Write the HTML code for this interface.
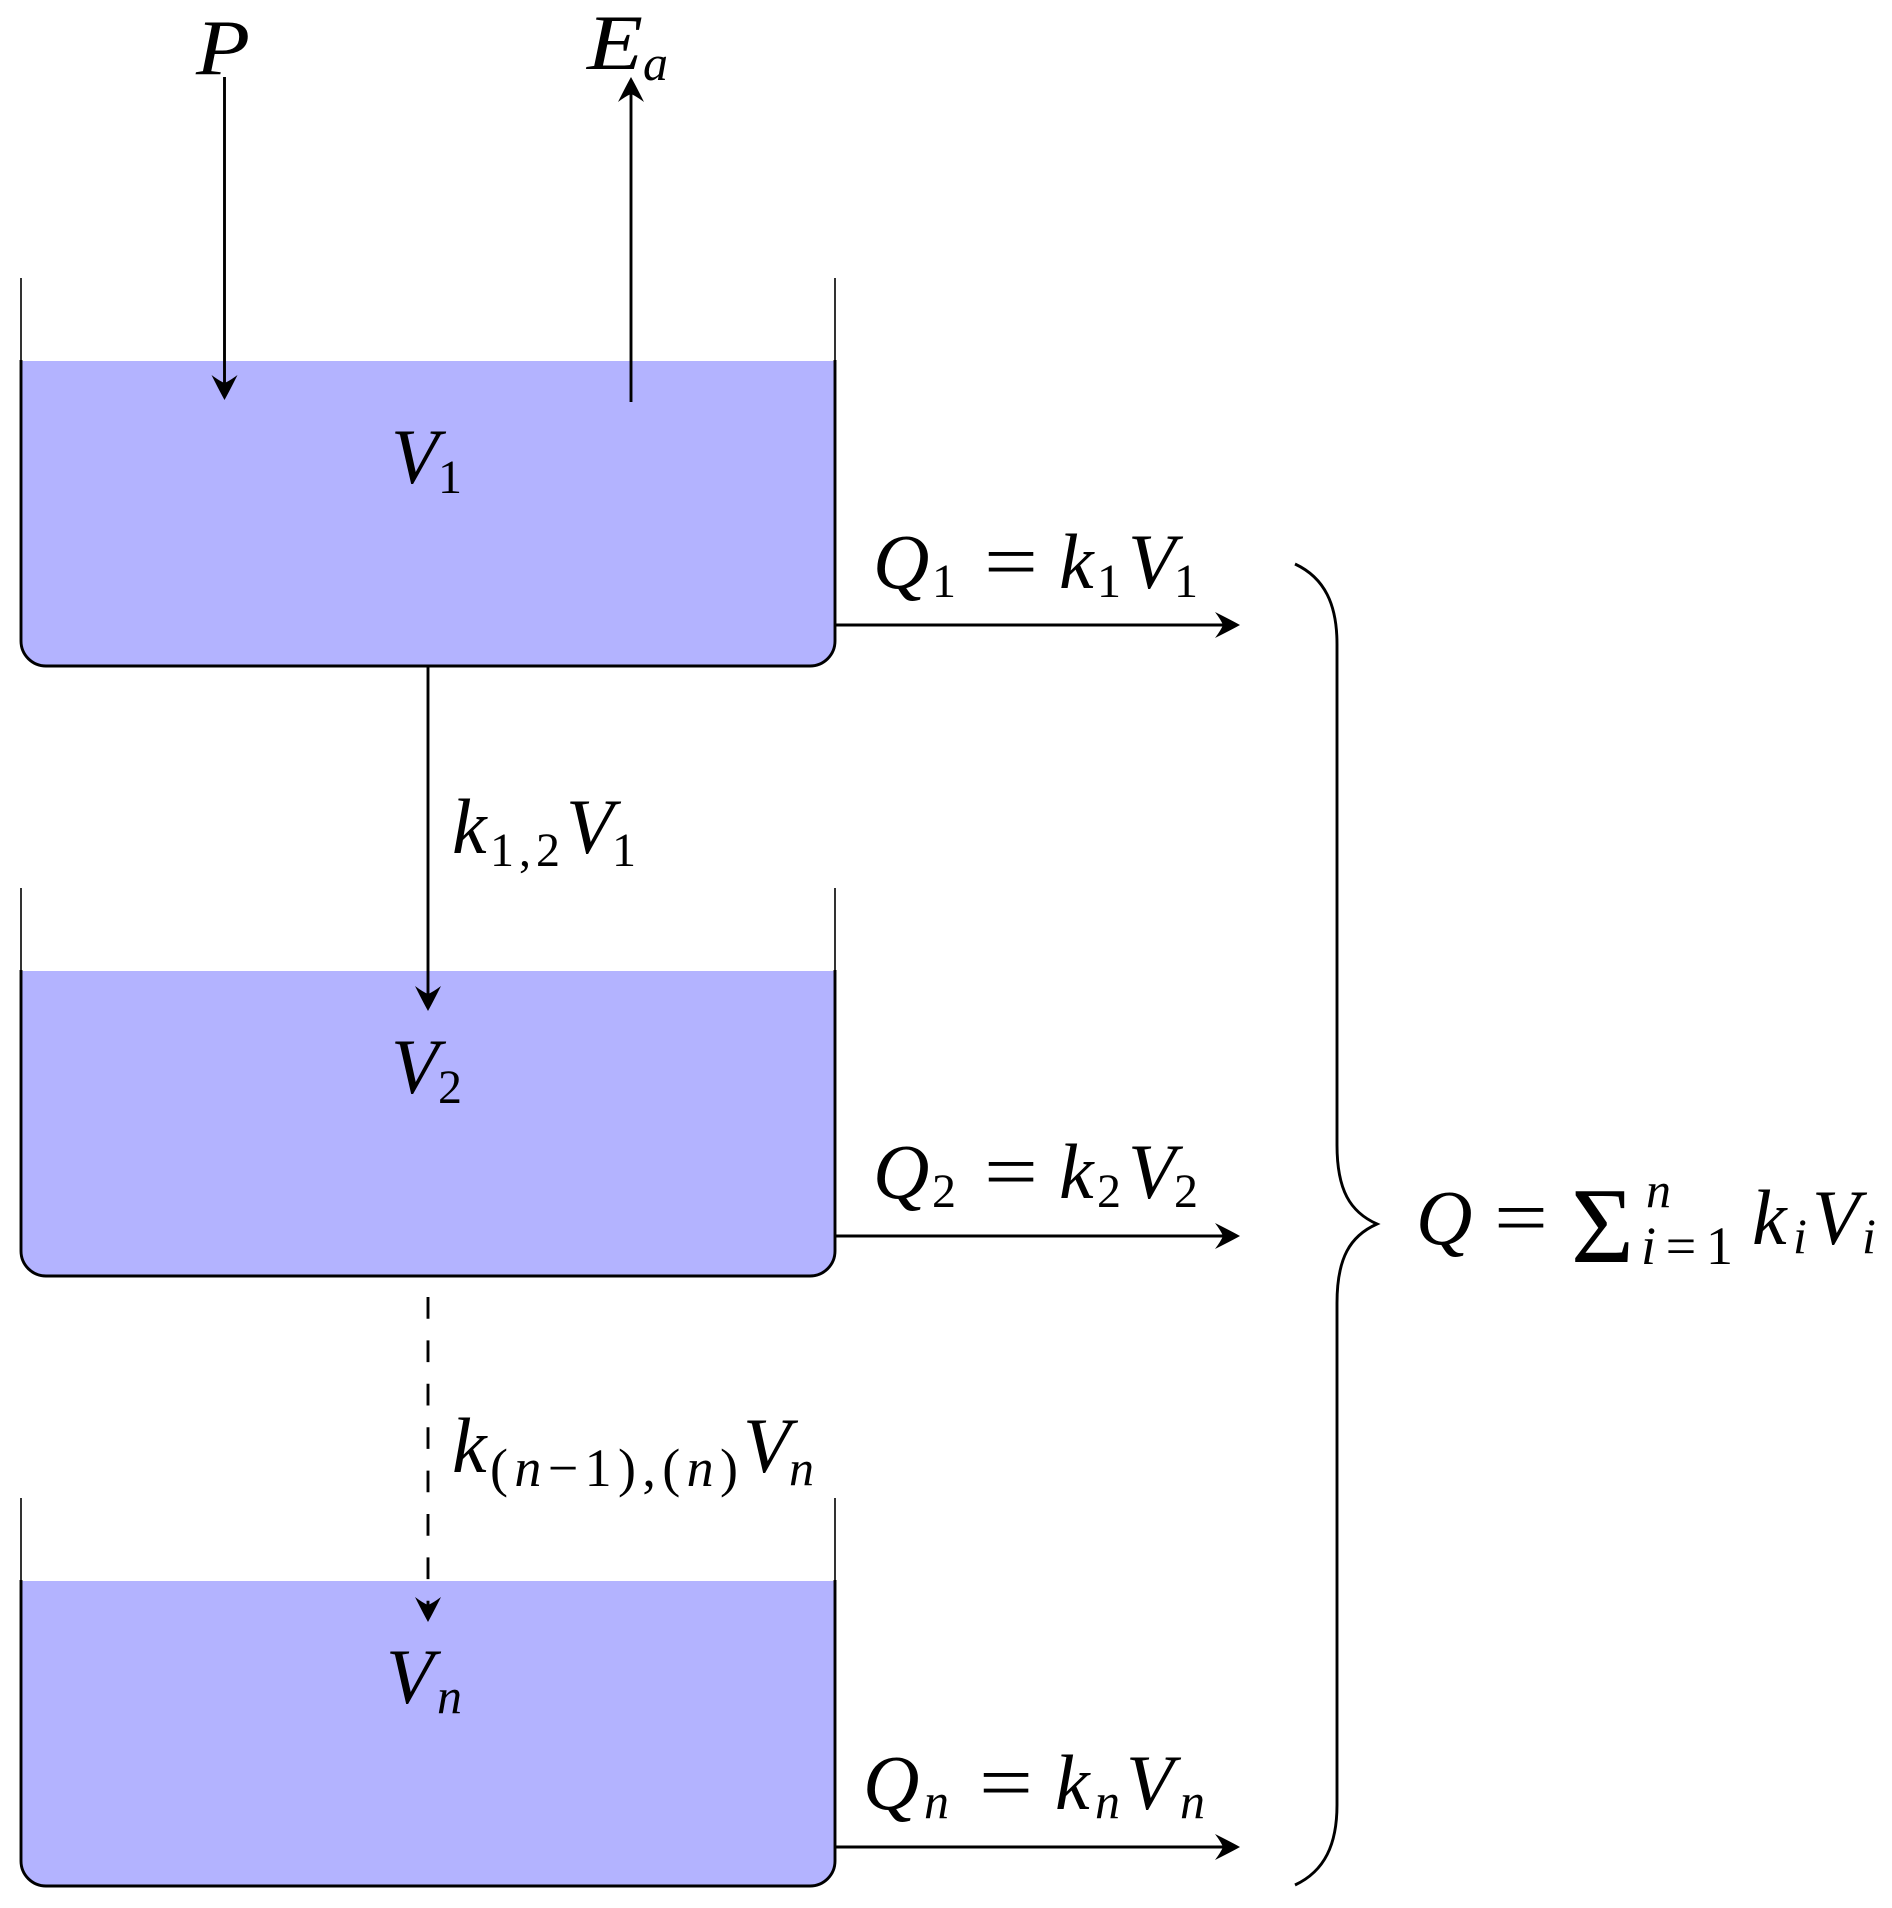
<!DOCTYPE html>
<html>
<head>
<meta charset="utf-8">
<style>
  html,body{margin:0;padding:0;background:#fff;}
  svg{display:block;}
  text{font-family:"Liberation Serif","DejaVu Serif",serif;fill:#000;}
  .m{font-style:italic;font-size:78px;}
  .s{font-style:italic;font-size:50px;}
  .d{font-style:normal;font-size:48px;}
  .u{font-style:normal;font-size:78px;}
</style>
</head>
<body>
<svg width="1892" height="1908" viewBox="0 0 1892 1908" xmlns="http://www.w3.org/2000/svg">
  <rect width="1892" height="1908" fill="#fff"/>

  <!-- Tanks -->
  <g>
    <path d="M21,361 V641 Q21,666 46,666 H810 Q835,666 835,641 V361 Z" fill="#b3b3ff"/>
    <path d="M21,278 V361 M835,278 V361" stroke="#000" stroke-width="1.6" fill="none"/>
    <path d="M21,360 V641 A25,25 0 0 0 46,666 H810 A25,25 0 0 0 835,641 V360" stroke="#000" stroke-width="2.9" fill="none"/>
  </g>
  <g transform="translate(0,610)">
    <path d="M21,361 V641 Q21,666 46,666 H810 Q835,666 835,641 V361 Z" fill="#b3b3ff"/>
    <path d="M21,278 V361 M835,278 V361" stroke="#000" stroke-width="1.6" fill="none"/>
    <path d="M21,360 V641 A25,25 0 0 0 46,666 H810 A25,25 0 0 0 835,641 V360" stroke="#000" stroke-width="2.9" fill="none"/>
  </g>
  <g transform="translate(0,1220)">
    <path d="M21,361 V641 Q21,666 46,666 H810 Q835,666 835,641 V361 Z" fill="#b3b3ff"/>
    <path d="M21,278 V361 M835,278 V361" stroke="#000" stroke-width="1.6" fill="none"/>
    <path d="M21,360 V641 A25,25 0 0 0 46,666 H810 A25,25 0 0 0 835,641 V360" stroke="#000" stroke-width="2.9" fill="none"/>
  </g>

  <!-- Arrow shafts -->
  <g stroke="#000" stroke-width="2.9" fill="none" stroke-linecap="butt">
    <path d="M224.5,77 V388"/>
    <path d="M631,402 V89"/>
    <path d="M428,666 V999"/>
    <path d="M428,1297 V1610" stroke-dasharray="21.7 21.7"/>
    <path d="M835,625 H1228"/>
    <path d="M835,1236 H1228"/>
    <path d="M835,1847 H1228"/>
    <!-- Brace -->
    <path d="M1295,564 C1325,578 1337,605 1337,644 L1337,1145 C1337,1190 1350,1212 1377,1224 C1350,1236 1337,1258 1337,1303 L1337,1805 C1337,1844 1325,1871 1295,1885"/>
  </g>

  <!-- Arrowheads (pointing +x, tip at origin) -->
  <g fill="#000">
    <path id="ah" d="M0,0 Q-9,-5 -25,-13 Q-19,-5 -17,0 Q-19,5 -25,13 Q-9,5 0,0 Z" transform="translate(224.5,400) rotate(90)"/>
    <path d="M0,0 Q-9,-5 -25,-13 Q-19,-5 -17,0 Q-19,5 -25,13 Q-9,5 0,0 Z" transform="translate(631,77) rotate(-90)"/>
    <path d="M0,0 Q-9,-5 -25,-13 Q-19,-5 -17,0 Q-19,5 -25,13 Q-9,5 0,0 Z" transform="translate(428,1011) rotate(90)"/>
    <path d="M0,0 Q-9,-5 -25,-13 Q-19,-5 -17,0 Q-19,5 -25,13 Q-9,5 0,0 Z" transform="translate(428,1622) rotate(90)"/>
    <path d="M0,0 Q-9,-5 -25,-13 Q-19,-5 -17,0 Q-19,5 -25,13 Q-9,5 0,0 Z" transform="translate(1240,625)"/>
    <path d="M0,0 Q-9,-5 -25,-13 Q-19,-5 -17,0 Q-19,5 -25,13 Q-9,5 0,0 Z" transform="translate(1240,1236)"/>
    <path d="M0,0 Q-9,-5 -25,-13 Q-19,-5 -17,0 Q-19,5 -25,13 Q-9,5 0,0 Z" transform="translate(1240,1847)"/>
  </g>

  <!-- Labels -->
  <text class="m" x="196" y="74" textLength="54" lengthAdjust="spacingAndGlyphs">P</text>
  <text class="m" x="587" y="69" textLength="56" lengthAdjust="spacingAndGlyphs">E</text>
  <text class="s" x="643" y="80">a</text>

  <!-- Tank labels -->
  <text class="m" x="391" y="483">V</text>
  <text class="d" x="438" y="493">1</text>
  <text class="m" x="391" y="1093">V</text>
  <text class="d" x="438" y="1103">2</text>
  <text class="m" x="386" y="1703">V</text>
  <text class="s" x="437" y="1713">n</text>

  <!-- k_{1,2} V_1 -->
  <text class="m" x="452" y="853">k</text>
  <text class="d" x="490" y="866" textLength="70" lengthAdjust="spacing">1,2</text>
  <text class="m" x="566" y="853">V</text>
  <text class="d" x="612" y="866">1</text>

  <!-- k_{(n-1),(n)} V_n -->
  <text class="m" x="452" y="1472">k</text>
  <text x="490" y="1486" font-size="54" textLength="248" lengthAdjust="spacing"><tspan>(</tspan><tspan font-style="italic">n</tspan><tspan>−1),(</tspan><tspan font-style="italic">n</tspan><tspan>)</tspan></text>
  <text class="m" x="743" y="1472">V</text>
  <text class="s" x="789" y="1485">n</text>

  <!-- Q1 = k1 V1 -->
  <text class="m" x="873" y="588">Q</text>
  <text class="d" x="932" y="597">1</text>
  <text class="u" x="984" y="588" textLength="54" lengthAdjust="spacingAndGlyphs">=</text>
  <text class="m" x="1059" y="588">k</text>
  <text class="d" x="1097" y="597">1</text>
  <text class="m" x="1128" y="588">V</text>
  <text class="d" x="1174" y="597">1</text>

  <!-- Q2 = k2 V2 -->
  <text class="m" x="873" y="1198">Q</text>
  <text class="d" x="932" y="1207">2</text>
  <text class="u" x="984" y="1198" textLength="54" lengthAdjust="spacingAndGlyphs">=</text>
  <text class="m" x="1059" y="1198">k</text>
  <text class="d" x="1097" y="1207">2</text>
  <text class="m" x="1128" y="1198">V</text>
  <text class="d" x="1174" y="1207">2</text>

  <!-- Qn = kn Vn -->
  <text class="m" x="863" y="1809">Q</text>
  <text class="s" x="924" y="1818">n</text>
  <text class="u" x="979" y="1809" textLength="54" lengthAdjust="spacingAndGlyphs">=</text>
  <text class="m" x="1055" y="1809">k</text>
  <text class="s" x="1095" y="1818">n</text>
  <text class="m" x="1126" y="1809">V</text>
  <text class="s" x="1180" y="1818">n</text>

  <!-- Q = sum_{i=1}^n k_i V_i -->
  <text class="m" x="1416" y="1244">Q</text>
  <text class="u" x="1494" y="1244" textLength="54" lengthAdjust="spacingAndGlyphs">=</text>
  <text x="1571" y="1262" font-size="108">Σ</text>
  <text class="s" x="1646" y="1207">n</text>
  <text x="1641" y="1264" font-size="54" textLength="92" lengthAdjust="spacing"><tspan font-style="italic">i</tspan><tspan>=1</tspan></text>
  <text class="m" x="1752" y="1244">k</text>
  <text class="s" x="1793" y="1253">i</text>
  <text class="m" x="1812" y="1244">V</text>
  <text class="s" x="1862" y="1253">i</text>
</svg>
</body>
</html>
